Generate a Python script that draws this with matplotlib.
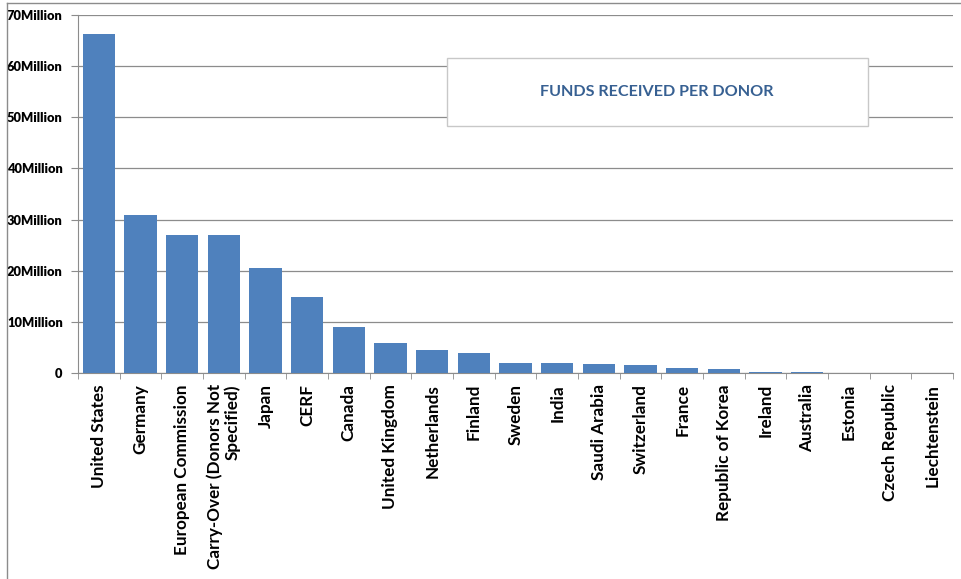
import matplotlib
matplotlib.use("Agg")
import matplotlib.pyplot as plt
from matplotlib.lines import Line2D
from matplotlib.patches import Rectangle
from matplotlib.ticker import FixedLocator

donors = ["United States", "Germany", "European Commission",
          "Carry-Over (Donors Not\nSpecified)", "Japan", "CERF", "Canada",
          "United Kingdom", "Netherlands", "Finland", "Sweden", "India",
          "Saudi Arabia", "Switzerland", "France", "Republic of Korea",
          "Ireland", "Australia", "Estonia", "Czech Republic", "Liechtenstein"]
funds_million = [66.3, 30.9, 26.9, 26.9, 20.5, 14.9, 9.0, 5.9, 4.5, 3.9,
                 2.0, 2.0, 1.8, 1.6, 0.9, 0.7, 0.25, 0.15, 0.06, 0.04, 0.03]
ytick_values = [0, 10, 20, 30, 40, 50, 60, 70]
ytick_labels = ["0", "10Million", "20Million", "30Million", "40Million",
                "50Million", "60Million", "70Million"]
title = "FUNDS RECEIVED PER DONOR"

plt.rcParams['font.family'] = ['Lato', 'DejaVu Sans']

fig = plt.figure(figsize=(9.62, 5.79), dpi=100)
ax = fig.add_axes([78/962, 1-373/579, (953-78)/962, (373-15)/579])

x = list(range(len(donors)))
ax.bar(x, funds_million, width=0.78, color="#4F81BD", zorder=3)
ax.set_xlim(-0.5, len(donors)-0.5)
ax.set_ylim(0, 70)
ax.set_yticks(ytick_values)
ax.set_yticklabels(ytick_labels, fontsize=9.3, fontweight='heavy')
ax.yaxis.grid(True, color="#8c8c8c", linewidth=0.9, zorder=0)
ax.set_axisbelow(True)

ax.set_xticks(x)
ax.set_xticklabels(donors, rotation=90, fontsize=12.3, fontweight='bold',
                   ha='center', va='top', multialignment='right',
                   linespacing=1.1)
ax.tick_params(axis='x', length=0, pad=8)
ax.xaxis.set_minor_locator(FixedLocator([i + 0.5 for i in range(-1, len(donors))]))
ax.tick_params(axis='x', which='minor', length=4, color="#8c8c8c", direction='out')
ax.tick_params(axis='y', length=5, color="#8c8c8c", pad=6)

for s in ['top', 'right']:
    ax.spines[s].set_visible(False)
ax.spines['left'].set_color("#8c8c8c")
ax.spines['bottom'].set_color("#8c8c8c")

# title box
fig.add_artist(Rectangle((447/962, 1-126/579), (868-447)/962, (126-58)/579,
                         transform=fig.transFigure, facecolor='white',
                         edgecolor="#c8c8c8", linewidth=1, zorder=4))
t = fig.text(657/962, 1-92/579, title, ha='center', va='center', fontsize=11.6,
             fontweight='bold', color="#376092")
t.set_zorder(5)

# outer frame lines (left and top)
fig.add_artist(Line2D([7/962, 7/962], [0, 1-3/579], transform=fig.transFigure,
                      color="#8c8c8c", linewidth=1))
fig.add_artist(Line2D([7/962, 1], [1-3/579, 1-3/579], transform=fig.transFigure,
                      color="#8c8c8c", linewidth=1))

fig.savefig("out.png", dpi=100)
